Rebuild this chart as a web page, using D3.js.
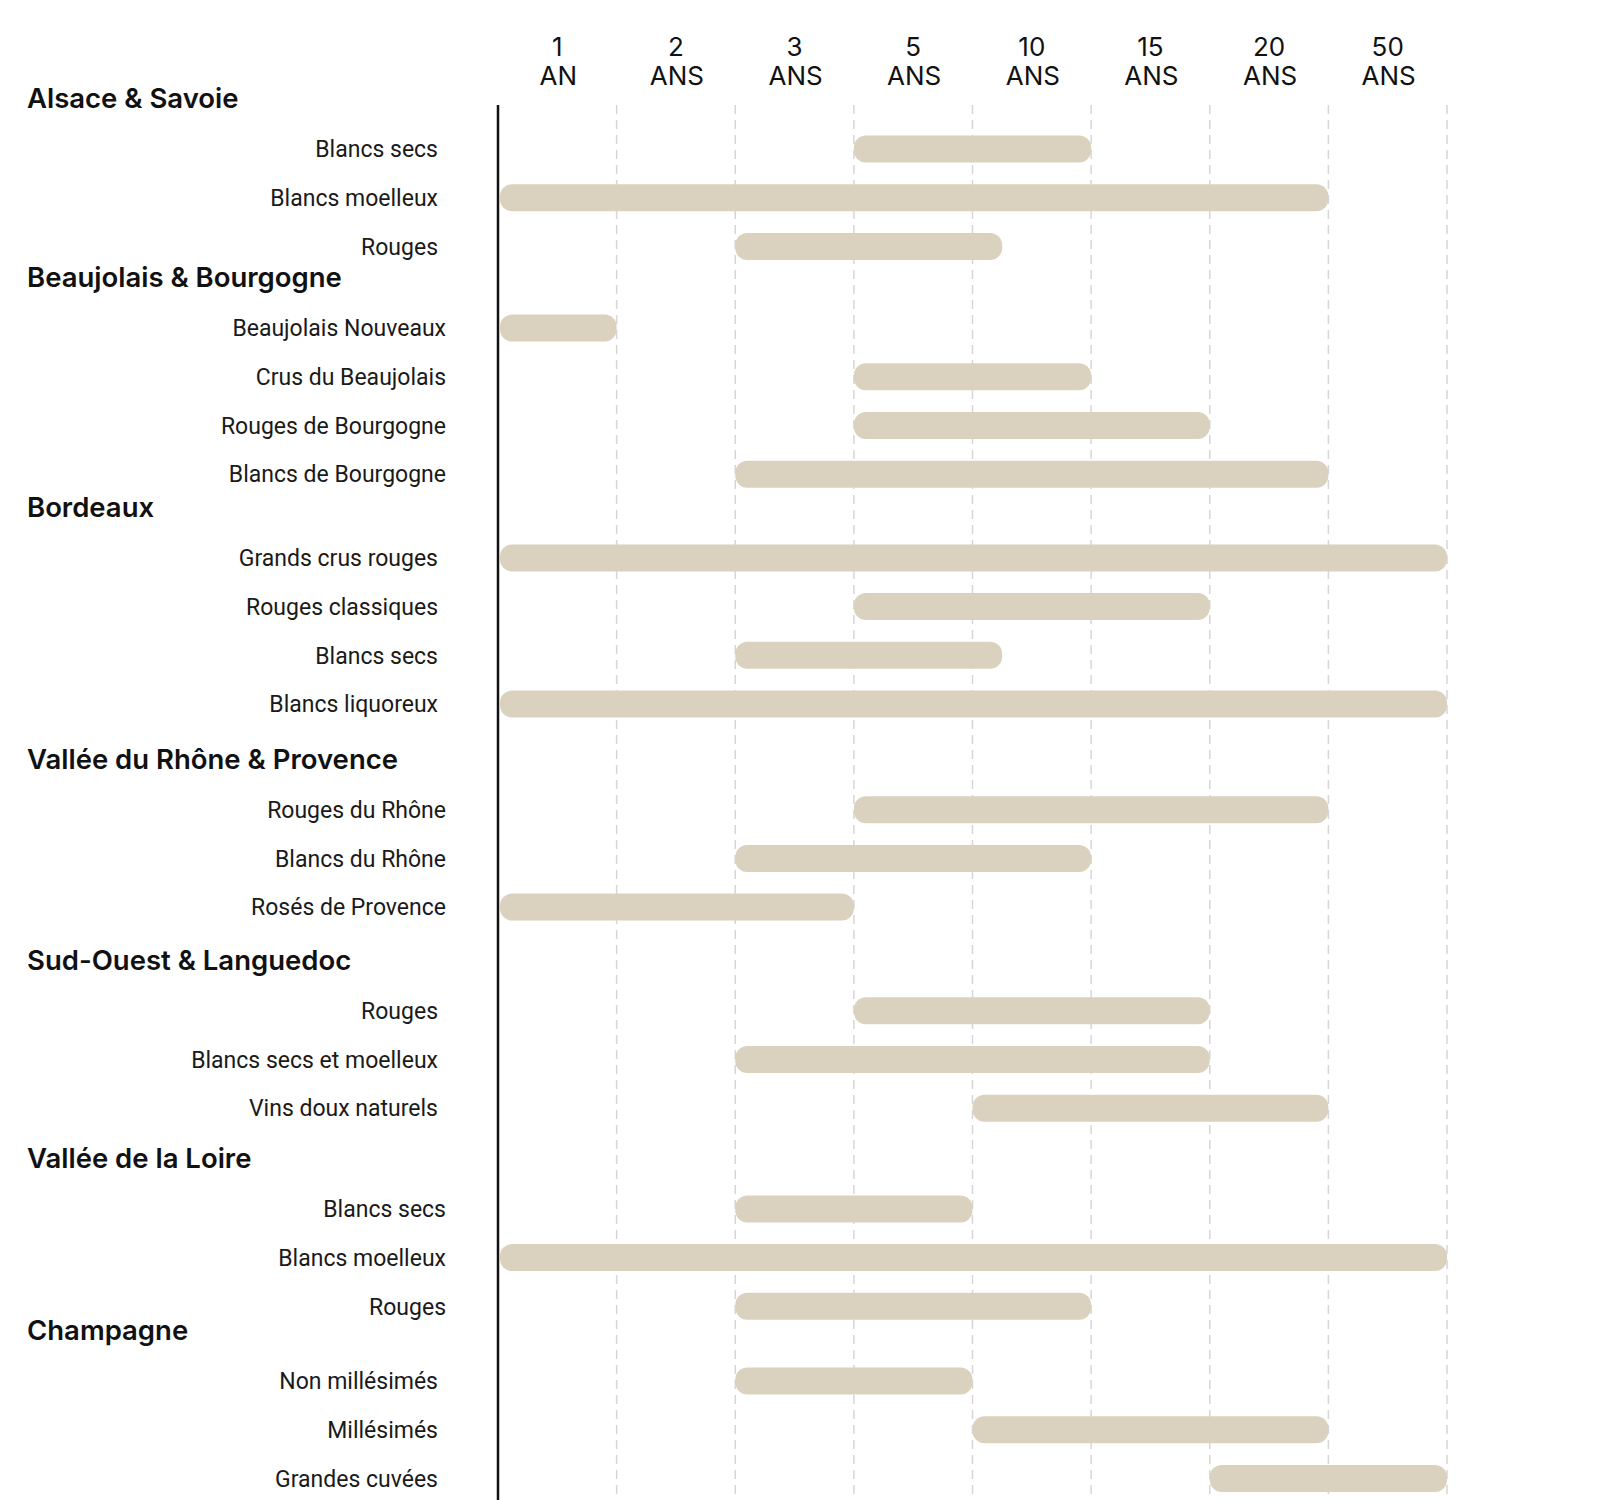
<!DOCTYPE html>
<html>
<head>
<meta charset="utf-8">
<script src="https://cdn.jsdelivr.net/npm/d3@7"></script>
<style>
  html, body { margin: 0; padding: 0; background: #ffffff; }
  svg { display: block; }
</style>
</head>
<body>
<svg id="chart" width="1600" height="1500"></svg>
<script>
// ---------------- DATA ----------------
const groups = [
  "Alsace & Savoie",
  "Beaujolais & Bourgogne",
  "Bordeaux",
  "Vallée du Rhône & Provence",
  "Sud-Ouest & Languedoc",
  "Vallée de la Loire",
  "Champagne"
];
const wines = [
  "Blancs secs", "Blancs moelleux", "Rouges",
  "Beaujolais Nouveaux", "Crus du Beaujolais", "Rouges de Bourgogne", "Blancs de Bourgogne",
  "Grands crus rouges", "Rouges classiques", "Blancs secs", "Blancs liquoreux",
  "Rouges du Rhône", "Blancs du Rhône", "Rosés de Provence",
  "Rouges", "Blancs secs et moelleux", "Vins doux naturels",
  "Blancs secs", "Blancs moelleux", "Rouges",
  "Non millésimés", "Millésimés", "Grandes cuvées"
];
const wineGroup = [0,0,0, 1,1,1,1, 2,2,2,2, 3,3,3, 4,4,4, 5,5,5, 6,6,6];
// keeping window, in years
const startYears = [3,0,2, 0,3,3,2, 0,3,2,0, 3,2,0, 3,2,5, 2,0,2, 2,5,15];
const endYears   = [10,20,6.25, 1,10,15,20, 50,15,6.25,50, 20,10,3, 15,15,20, 5,50,10, 5,20,50];
const tickYears  = [1, 2, 3, 5, 10, 15, 20, 50];
const tickNumbers = ["1", "2", "3", "5", "10", "15", "20", "50"];
const tickUnits  = ["AN", "ANS", "ANS", "ANS", "ANS", "ANS", "ANS", "ANS"];

// ---------------- LAYOUT ----------------
const axisX = 498, rightX = 1447;
const firstItemY = 149, itemStep = 48.7;
const groupExtra = [0, 33, 35, 57, 55, 52, 26];
const headerOffset = 51;
const barH = 27;
const barColor = "#dad2bf";
const labelFont = "Roboto, 'Liberation Sans', sans-serif";
const headFont = "Inter, 'Noto Sans', sans-serif";

const svg = d3.select("#chart");

// piecewise scale: each tick year sits on an equally spaced boundary
const domainYears = [0].concat(tickYears);
const x = d3.scaleLinear()
  .domain(domainYears)
  .range(domainYears.map((d, i) => axisX + i * (rightX - axisX) / tickYears.length));

// y positions
const itemY = [];
{
  let y = firstItemY;
  wines.forEach((w, i) => {
    if (i > 0) {
      y += itemStep;
      if (wineGroup[i] !== wineGroup[i - 1]) y += groupExtra[wineGroup[i]];
    }
    itemY.push(y);
  });
}
const groupY = groups.map((g, gi) => itemY[wineGroup.indexOf(gi)] - headerOffset);

// gridlines
svg.append("g").selectAll("line")
  .data(tickYears)
  .join("line")
  .attr("x1", d => x(d)).attr("x2", d => x(d))
  .attr("y1", 105).attr("y2", 1500)
  .attr("stroke", "#d6d6d6")
  .attr("stroke-width", 1.5)
  .attr("stroke-dasharray", "9,6");

// column headers
const colHead = svg.append("g").selectAll("text")
  .data(tickYears)
  .join("text")
  .attr("text-anchor", "middle")
  .attr("font-family", headFont)
  .attr("font-size", 26)
  .attr("fill", "#111");
colHead.append("tspan")
  .attr("x", (d, i) => (x(domainYears[i]) + x(d)) / 2)
  .attr("y", 56)
  .text((d, i) => tickNumbers[i]);
colHead.append("tspan")
  .attr("x", (d, i) => (x(domainYears[i]) + x(d)) / 2 + 1)
  .attr("y", 85)
  .text((d, i) => tickUnits[i]);

// bars
svg.append("g").selectAll("rect")
  .data(wines.map((w, i) => i))
  .join("rect")
  .attr("x", i => x(startYears[i]) + (startYears[i] === 0 ? 2 : 0))
  .attr("width", i => x(endYears[i]) - x(startYears[i]) - (startYears[i] === 0 ? 2 : 0))
  .attr("y", i => itemY[i] - barH / 2)
  .attr("height", barH)
  .attr("rx", 12).attr("ry", 12)
  .attr("fill", barColor);

// axis line
svg.append("line")
  .attr("x1", axisX).attr("x2", axisX)
  .attr("y1", 105).attr("y2", 1500)
  .attr("stroke", "#111")
  .attr("stroke-width", 2.5);

// group headers
svg.append("g").selectAll("text")
  .data(groups)
  .join("text")
  .attr("x", 27)
  .attr("y", (d, i) => groupY[i])
  .attr("dy", "0.36em")
  .attr("font-family", headFont)
  .attr("font-weight", 600)
  .attr("font-size", 27.5)
  .attr("fill", "#111")
  .text(d => d);

// wine labels
svg.append("g").selectAll("text")
  .data(wines)
  .join("text")
  .attr("x", (d, i) => wineGroup[i] % 2 === 0 ? 438 : 446)
  .attr("y", (d, i) => itemY[i])
  .attr("dy", "0.36em")
  .attr("text-anchor", "end")
  .attr("font-family", labelFont)
  .attr("font-size", 23)
  .attr("fill", "#1a1a1a")
  .text(d => d);
</script>
</body>
</html>
